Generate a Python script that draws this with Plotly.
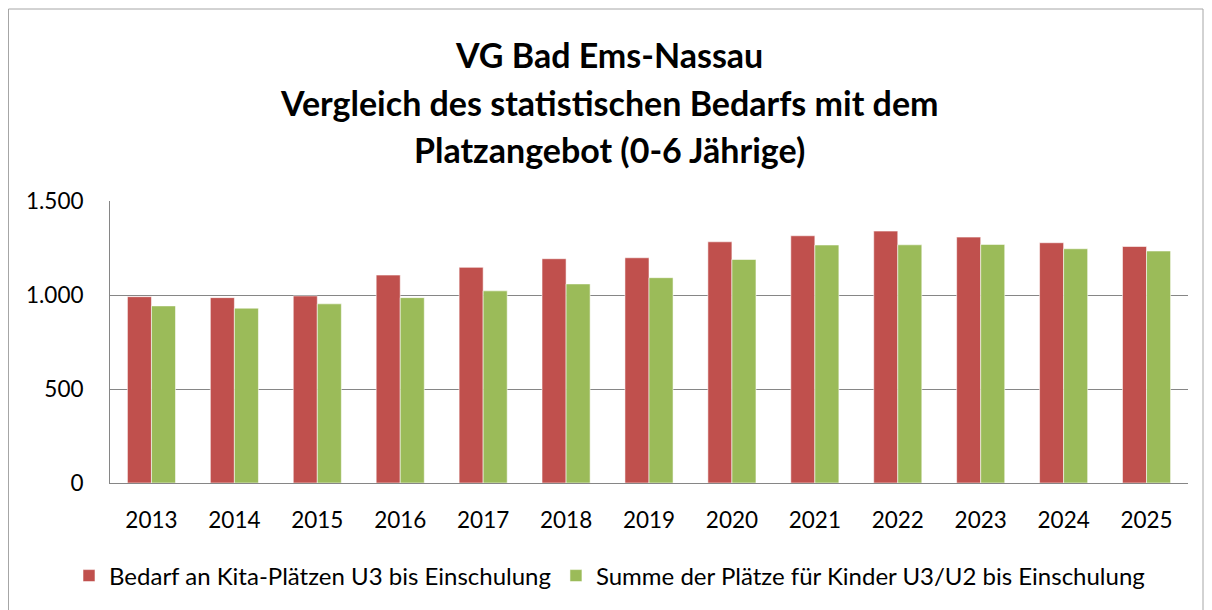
import plotly.graph_objects as go

years = ["2013", "2014", "2015", "2016", "2017", "2018", "2019",
         "2020", "2021", "2022", "2023", "2024", "2025"]
bedarf = [991, 986, 995, 1106, 1147, 1193, 1198, 1283, 1315, 1340, 1308, 1278, 1258]
plaetze = [942, 930, 953, 986, 1022, 1059, 1092, 1189, 1266, 1267, 1269, 1246, 1234]
series_names = ["Bedarf an Kita-Plätzen U3 bis Einschulung",
                "Summe der Plätze für Kinder U3/U2 bis Einschulung"]
title_lines = ["VG Bad Ems-Nassau",
               "Vergleich des statistischen Bedarfs mit dem",
               "Platzangebot (0-6 Jährige)"]
y_ticks = [0, 500, 1000, 1500]
y_tick_text = ["0", "500", "1.000", "1.500"]

FONT = "Lato"
OFF = 8  # default page body margin
W, H = 1212 - OFF, 610 - OFF
# plot area in page coords: x 110..1188, y 201..483
L, R, T, B = 110 - OFF, W + OFF - 1188, 201 - OFF, H + OFF - 483
pw, ph = W - L - R, H - T - B

def px_x(x):
    return (x - OFF - L) / pw

def px_y(y):
    return (H - B - (y - OFF)) / ph

fig = go.Figure()
fig.add_trace(go.Bar(x=years, y=bedarf, name=series_names[0],
                     marker=dict(color="#C0504D", line=dict(color="rgba(255,255,255,0.55)", width=1))))
fig.add_trace(go.Bar(x=years, y=plaetze, name=series_names[1],
                     marker=dict(color="#9BBB59", line=dict(color="rgba(255,255,255,0.55)", width=1))))

for line, yy in zip(title_lines, [54, 102, 149]):
    fig.add_annotation(text="<b>%s</b>" % line, x=px_x(609), y=px_y(yy),
                       xref="paper", yref="paper", showarrow=False,
                       xanchor="center", yanchor="middle",
                       font=dict(family=FONT, size=34, color="#000000"))

fig.add_shape(type="rect", xref="paper", yref="paper",
              x0=px_x(8.5), x1=px_x(1203), y0=px_y(640), y1=px_y(9),
              line=dict(color="#A6A6A6", width=1), fillcolor="rgba(0,0,0,0)", layer="below")

fig.update_layout(
    width=W, height=H,
    margin=dict(l=L, r=R, t=T, b=B, pad=0),
    paper_bgcolor="white", plot_bgcolor="white",
    barmode="group", bargap=0.42, bargroupgap=0,
    font=dict(family=FONT, size=22, color="#000000"),
    showlegend=True,
    legend=dict(orientation="h", x=px_x(69), y=px_y(576), xanchor="left", yanchor="middle",
                font=dict(family=FONT, size=24), itemwidth=30, traceorder="normal",
                bgcolor="rgba(0,0,0,0)"),
    xaxis=dict(showline=True, linecolor="#868686", linewidth=1, showgrid=False,
               ticks="", tickfont=dict(family=FONT, size=22.5), ticklabelstandoff=17),
    yaxis=dict(range=[0, 1500], tickvals=y_ticks, ticktext=y_tick_text,
               showgrid=True, gridcolor="#868686", gridwidth=1,
               showline=True, linecolor="#868686", linewidth=1,
               zeroline=False, ticks="", tickfont=dict(family=FONT, size=22.5),
               ticklabelstandoff=21),
)

fig.write_html("out.html")
